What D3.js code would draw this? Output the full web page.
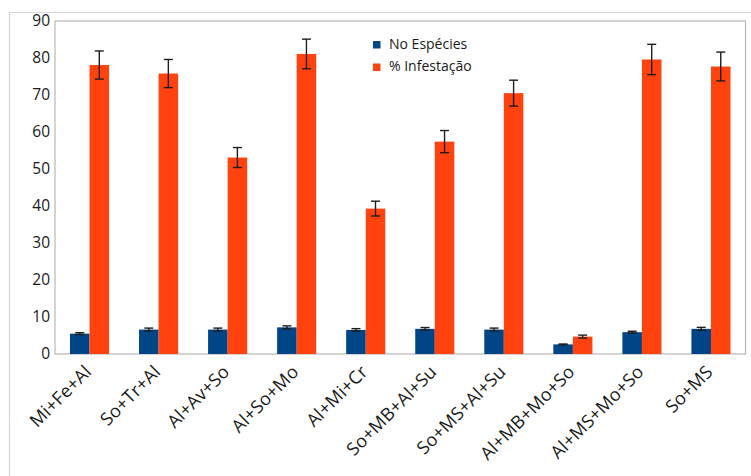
<!DOCTYPE html>
<html><head><meta charset="utf-8">
<script src="https://cdn.jsdelivr.net/npm/d3@7"></script>
<style>
html,body{margin:0;padding:0;background:#fff;}
svg{display:block;}
text{font-family:"Open Sans","Noto Sans",sans-serif;fill:#1a1a1a;}
</style></head>
<body>
<svg id="chart" width="751" height="476"></svg>
<script>
const categories = ["Mi+Fe+Al","So+Tr+Al","Al+Av+So","Al+So+Mo","Al+Mi+Cr","So+MB+Al+Su","So+MS+Al+Su","Al+MB+Mo+So","Al+MS+Mo+So","So+MS"];
const seriesNames = ["No Espécies","% Infestação"];
const especies = [5.5, 6.6, 6.6, 7.2, 6.5, 6.8, 6.6, 2.6, 5.9, 6.8];
const especiesErr = [0.25, 0.4, 0.4, 0.4, 0.35, 0.35, 0.4, 0.1, 0.25, 0.4];
const infestacao = [78.1, 75.8, 53.1, 81.1, 39.3, 57.4, 70.5, 4.7, 79.6, 77.7];
const infestacaoErr = [3.8, 3.8, 2.7, 4.0, 2.0, 3.0, 3.5, 0.4, 4.1, 3.9];
const yTicks = [0,10,20,30,40,50,60,70,80,90];
const colors = ["#004586","#ff420e"];

const svg = d3.select("#chart");
const L = 55, R = 745.5, T = 21, B = 354;

// outer frame
svg.append("path").attr("d","M9.5,476 L9.5,12.5 L751,12.5")
  .attr("fill","none").attr("stroke","#d4d4d4").attr("stroke-width",1.2);

const x0 = d3.scaleBand().domain(categories).range([L, R]).padding(0);
const bw = x0.bandwidth();
const x1 = d3.scaleBand().domain([0,1]).range([bw*0.217, bw*0.783]).padding(0);
const y = d3.scaleLinear().domain([0,90]).range([B, T]);

// plot frame
svg.append("rect").attr("x",L).attr("y",T).attr("width",R-L).attr("height",B-T)
  .attr("fill","none").attr("stroke","#b8b8b8").attr("stroke-width",1.2);

const series = [
  {vals: especies, err: especiesErr},
  {vals: infestacao, err: infestacaoErr}
];

series.forEach((s, si) => {
  const g = svg.append("g");
  g.selectAll("rect").data(categories).join("rect")
    .attr("x", c => x0(c) + x1(si))
    .attr("y", (c,i) => y(s.vals[i]))
    .attr("width", x1.bandwidth())
    .attr("height", (c,i) => y(0) - y(s.vals[i]))
    .attr("fill", colors[si]);
});

series.forEach((s, si) => {
  const g = svg.append("g").attr("stroke","#1e1e1e").attr("stroke-width",1.4).attr("fill","none");
  categories.forEach((c,i) => {
    const cx = x0(c) + x1(si) + x1.bandwidth()/2;
    const hi = y(s.vals[i] + s.err[i]), lo = y(s.vals[i] - s.err[i]);
    g.append("line").attr("x1",cx).attr("x2",cx).attr("y1",hi).attr("y2",lo);
    g.append("line").attr("x1",cx-4.5).attr("x2",cx+4.5).attr("y1",hi).attr("y2",hi);
    g.append("line").attr("x1",cx-4.5).attr("x2",cx+4.5).attr("y1",lo).attr("y2",lo);
  });
});

// y axis labels
const yAxis = d3.axisLeft(y).tickValues(yTicks).tickSize(0).tickPadding(5);
const ya = svg.append("g").attr("transform",`translate(${L},0)`).call(yAxis);
ya.select(".domain").remove();
ya.selectAll("text").style("font-size","15.5px").attr("fill","#1a1a1a")
  .style("font-family","'Open Sans','Noto Sans',sans-serif");

// x axis labels
const xAxis = d3.axisBottom(x0).tickSize(0);
const xa = svg.append("g").attr("transform",`translate(0,${B})`).call(xAxis);
xa.select(".domain").remove();
xa.selectAll("text")
  .attr("text-anchor","end")
  .attr("transform","translate(3,19) rotate(-45)")
  .attr("x",0).attr("y",0).attr("dy",0)
  .style("font-size","18px").style("letter-spacing","0.2px").attr("fill","#1a1a1a")
  .style("font-family","'Open Sans','Noto Sans',sans-serif");

// legend
const lg = svg.append("g");
seriesNames.forEach((n, i) => {
  lg.append("rect").attr("x",373).attr("y",41 + i*22.5).attr("width",7.5).attr("height",7.5).attr("fill",colors[i]);
  lg.append("text").attr("x",389).attr("y",48.5 + i*22.5).text(n).style("font-size","14px");
});
</script>
</body></html>
